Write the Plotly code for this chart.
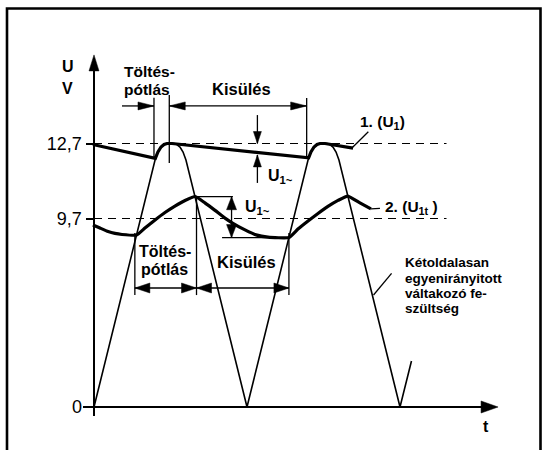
import plotly.graph_objects as go

# Full-wave rectified alternating voltage (t in ms, U in V)
RECT_T = [0, 3.99, 4.18, 4.38, 4.58, 4.77, 5.23, 5.42, 5.62, 5.82, 6.01, 10.0,
          13.99, 14.18, 14.38, 14.58, 14.77, 15.23, 15.42, 15.62, 15.82, 16.01, 20.0, 20.75]
RECT_V = [0, 11.90, 12.29, 12.53, 12.65, 12.70, 12.70, 12.65, 12.53, 12.29, 11.90, 0,
          11.90, 12.29, 12.53, 12.65, 12.70, 12.70, 12.65, 12.53, 12.29, 11.90, 0, 2.22]

# Curve 1: capacitor voltage U1 (peak level 12.7 V)
U1_T = [-0.07, 4.01, 4.18, 4.38, 4.58, 4.77, 5.10, 14.03, 14.18, 14.38, 14.58, 14.77, 15.10, 16.93]
U1_V = [12.65, 11.98, 12.29, 12.53, 12.65, 12.70, 12.70, 12.01, 12.29, 12.53, 12.65, 12.70, 12.70, 12.48]

# Curve 2: loaded voltage U1t (mean level 9.7 V)
U1T_T = [-0.07, 0.39, 0.92, 1.37, 1.83, 2.78, 3.33, 3.99, 4.64, 5.29, 5.95, 6.62,
         7.25, 7.91, 8.56, 9.08, 9.87, 10.59, 11.37, 12.74,
         13.33, 13.99, 14.64, 15.29, 15.95, 16.59, 17.38, 18.10]
U1T_V = [9.39, 9.24, 9.07, 8.98, 8.93, 8.90, 9.24, 9.63, 9.99, 10.30, 10.57, 10.76,
         10.45, 10.09, 9.72, 9.47, 9.15, 8.91, 8.80, 8.78,
         9.19, 9.58, 9.94, 10.28, 10.57, 10.78, 10.45, 10.16]

LEVEL_HIGH = 12.7
LEVEL_LOW = 9.7
TICK_HIGH = ["0", "12,7"]
TICK_LOW = ["9,7"]
LEVEL_END_T = 23.04

# charge / discharge intervals
PHASE_TOP = [1.83, 3.92, 4.92, 13.90]   # lead-in, charge end, discharge start, discharge end
PHASE_TOP_V = 14.51
PHASE_BOT = [2.67, 6.70, 12.74]
PHASE_BOT_V = 6.35

# ripple markers
RIPPLE1_T, RIPPLE1_TOP, RIPPLE1_BOT = 10.68, 12.70, 12.15
RIPPLE2_T, RIPPLE2_TOP, RIPPLE2_BOT = 8.99, 10.75, 8.78

W, H = 549, 450
X_RANGE = [-6.144, 29.739]
Y_RANGE = [-2.0725, 19.616]
Y2_RANGE = [-1.458, 20.231]
PX_T = W / (X_RANGE[1] - X_RANGE[0])
PX_V = H / (Y_RANGE[1] - Y_RANGE[0])
AXIS_POS = 93.5 / W

FONT = "Liberation Sans, Arial, sans-serif"
INK = "black"

fig = go.Figure()
fig.add_trace(go.Scatter(x=RECT_T, y=RECT_V, mode="lines",
                         line=dict(color=INK, width=1.6), hoverinfo="skip"))
fig.add_trace(go.Scatter(x=U1_T, y=U1_V, mode="lines",
                         line=dict(color=INK, width=3.2), hoverinfo="skip"))
fig.add_trace(go.Scatter(x=U1T_T, y=U1T_V, mode="lines", yaxis="y2",
                         line=dict(color=INK, width=3.2, shape="spline", smoothing=0.4),
                         hoverinfo="skip"))
fig.add_trace(go.Scatter(x=[0, LEVEL_END_T], y=[LEVEL_HIGH, LEVEL_HIGH], mode="lines",
                         line=dict(color=INK, width=1.2, dash="8px,6px"), hoverinfo="skip"))
fig.add_trace(go.Scatter(x=[0, LEVEL_END_T], y=[LEVEL_LOW, LEVEL_LOW], mode="lines", yaxis="y2",
                         line=dict(color=INK, width=1.2, dash="8px,6px"), hoverinfo="skip"))

shapes = []


def seg(x0, y0, x1, y1, yref="y", width=1.3):
    shapes.append(dict(type="line", xref="x", yref=yref, x0=x0, y0=y0, x1=x1, y1=y1,
                       line=dict(color=INK, width=width)))


def head(t, v, direction, yref="y", length=15, half=4.5):
    dx, dy = {"right": (1, 0), "left": (-1, 0), "up": (0, 1), "down": (0, -1)}[direction]
    bt = t - dx * length / PX_T
    bv = v - dy * length / PX_V
    pt = -dy * half / PX_T
    pv = dx * half / PX_V
    path = f"M {t},{v} L {bt + pt},{bv + pv} L {bt - pt},{bv - pv} Z"
    shapes.append(dict(type="path", xref="x", yref=yref, path=path,
                       fillcolor=INK, line=dict(color=INK, width=0.5)))


# coordinate axes with arrows
X_AXIS_END = 26.41
Y_AXIS_END = 16.97
seg(-0.72, 0, X_AXIS_END - 8 / PX_T, 0, width=2)
head(X_AXIS_END, 0, "right", length=17, half=6)
seg(0, -0.43, 0, Y_AXIS_END - 8 / PX_V, width=2)
head(0, Y_AXIS_END, "up", length=16, half=5)

# upper interval markers (curve 1)
seg(PHASE_TOP[1], 11.95, PHASE_TOP[1], 14.90)
seg(PHASE_TOP[2], 11.76, PHASE_TOP[2], 15.04)
seg(PHASE_TOP[3], 12.00, PHASE_TOP[3], 14.89)
seg(PHASE_TOP[0], PHASE_TOP_V, PHASE_TOP[1], PHASE_TOP_V)
seg(PHASE_TOP[2], PHASE_TOP_V, PHASE_TOP[3], PHASE_TOP_V)
head(PHASE_TOP[1], PHASE_TOP_V, "right", length=16, half=4)
head(PHASE_TOP[2], PHASE_TOP_V, "left", length=16, half=4)
head(PHASE_TOP[3], PHASE_TOP_V, "right", length=16, half=4)

# lower interval markers (curve 2)
seg(PHASE_BOT[0], 6.01, PHASE_BOT[0], 9.00, yref="y2")
seg(PHASE_BOT[1], 6.01, PHASE_BOT[1], 10.74, yref="y2")
seg(PHASE_BOT[2], 6.01, PHASE_BOT[2], 9.00, yref="y2")
seg(PHASE_BOT[0], PHASE_BOT_V, PHASE_BOT[2], PHASE_BOT_V, yref="y2")
head(PHASE_BOT[0], PHASE_BOT_V, "left", yref="y2", length=15, half=5)
head(PHASE_BOT[1], PHASE_BOT_V, "right", yref="y2", length=15, half=5)
head(PHASE_BOT[1], PHASE_BOT_V, "left", yref="y2", length=15, half=5)
head(PHASE_BOT[2], PHASE_BOT_V, "right", yref="y2", length=15, half=5)

# ripple of curve 1
seg(RIPPLE1_T, 14.07, RIPPLE1_T, RIPPLE1_TOP)
head(RIPPLE1_T, RIPPLE1_TOP, "down", length=12, half=4)
seg(RIPPLE1_T, 10.80, RIPPLE1_T, RIPPLE1_BOT)
head(RIPPLE1_T, RIPPLE1_BOT, "up", length=12, half=4)

# ripple of curve 2
seg(U1T_T[11], RIPPLE2_TOP, 9.08, RIPPLE2_TOP, yref="y2")
seg(8.37, RIPPLE2_BOT, PHASE_BOT[2], RIPPLE2_BOT, yref="y2")
seg(RIPPLE2_T, RIPPLE2_TOP, RIPPLE2_T, RIPPLE2_BOT, yref="y2")
head(RIPPLE2_T, RIPPLE2_TOP, "up", yref="y2", length=13, half=5)
head(RIPPLE2_T, RIPPLE2_BOT, "down", yref="y2", length=13, half=5)

# leader lines
seg(16.84, 12.47, 17.93, 13.27)
seg(U1T_T[-1], U1T_V[-1], 18.69, 10.19, yref="y2")
seg(18.27, 5.40, 19.45, 6.44)

# page frame
shapes.append(dict(type="rect", xref="paper", yref="paper",
                   x0=7 / W, x1=540.5 / W, y0=-0.1, y1=1 - 8.5 / H,
                   line=dict(color=INK, width=2.6)))

ann = []


def text(s, t, v, size=16.5, yref="y", xanchor="center", bold=True):
    ann.append(dict(text=f"<b>{s}</b>" if bold else s, x=t, y=v, xref="x", yref=yref,
                    showarrow=False, xanchor=xanchor, yanchor="middle",
                    font=dict(family=FONT, size=size, color=INK)))


text("U", -1.70, 16.39, size=16)
text("V", -1.70, 15.33, size=16)
text("t", 25.65, -0.96, size=16)
text("Töltés-", 3.62, 16.16, size=15.5)
text("pótlás", 3.45, 15.29, size=15.5)
text("Kisülés", 9.67, 15.33)
text("Töltés-", 4.64, 8.10, yref="y2", size=16)
text("pótlás", 4.64, 7.22, yref="y2", size=16)
text("Kisülés", 9.98, 7.62, yref="y2")
text("U<sub>1~</sub>", 11.24, 11.10, xanchor="left", size=16)
text("U<sub>1~</sub>", 9.74, 10.25, yref="y2", xanchor="left", size=16)
text("1. (U<sub>1</sub>)", 17.25, 13.69, xanchor="left", size=15.5)
text("2. (U<sub>1t</sub> )", 18.89, 10.25, yref="y2", xanchor="left", size=15.5)
NOTE = ["Kétoldalasan", "egyenirányitott", "váltakozó fe-", "szültség"]
for line, v in zip(NOTE, [6.95, 6.19, 5.47, 4.76]):
    text(line, 20.20, v, size=13.5, xanchor="left")

axis_common = dict(showgrid=False, zeroline=False, showline=False, fixedrange=True,
                   ticks="outside", ticklen=8, tickwidth=1.5, tickcolor=INK,
                   tickfont=dict(family=FONT, size=18, color=INK),
                   anchor="free", position=AXIS_POS, automargin=False)

fig.update_layout(
    width=W, height=H, template="none",
    margin=dict(l=0, r=0, t=0, b=0),
    paper_bgcolor="white", plot_bgcolor="white",
    showlegend=False,
    xaxis=dict(range=X_RANGE, domain=[0, 1], visible=False, fixedrange=True),
    yaxis=dict(range=Y_RANGE, domain=[0, 1], tickvals=[0, LEVEL_HIGH], ticktext=TICK_HIGH,
               **axis_common),
    yaxis2=dict(range=Y2_RANGE, overlaying="y", side="left", tickvals=[LEVEL_LOW],
                ticktext=TICK_LOW, **axis_common),
    shapes=shapes,
    annotations=ann,
    font=dict(family=FONT, color=INK),
)

fig.write_html("out.html", config={"displayModeBar": False})
